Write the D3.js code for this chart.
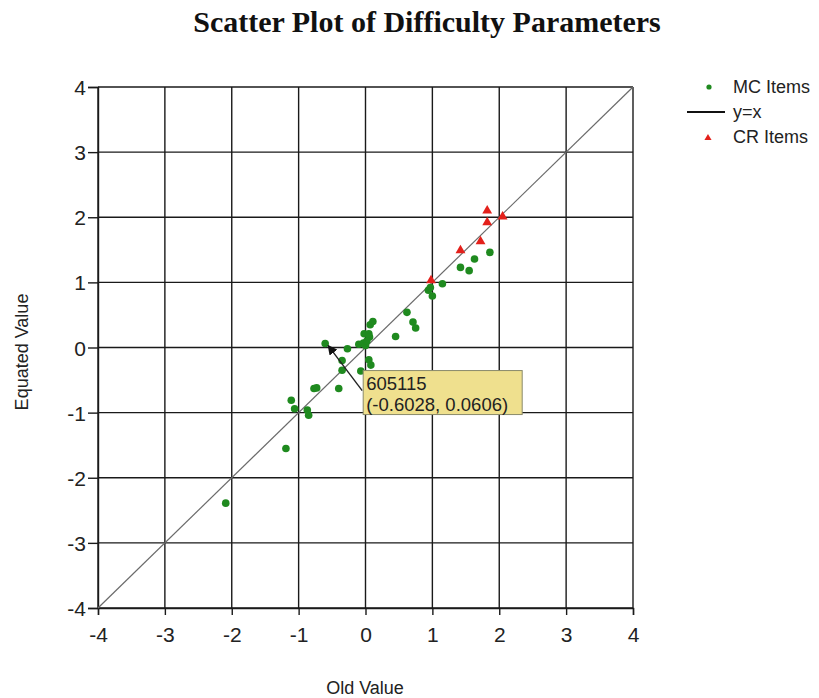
<!DOCTYPE html>
<html>
<head>
<meta charset="utf-8">
<script src="https://cdn.jsdelivr.net/npm/d3@7"></script>
<style>
  html, body { margin: 0; padding: 0; background: #fff; }
  svg { display: block; }
</style>
</head>
<body>
<div id="chart"></div>
<script>
// Old vs. equated item difficulty values
const mcOld = [-2.09, -1.19, -1.11, -1.06, -0.87, -0.85, -0.77, -0.73, -0.6028, -0.40,
               -0.35, -0.35, -0.27, -0.07, -0.10, -0.03, 0.00, -0.02, 0.05, 0.06,
               0.02, 0.07, 0.11, 0.05, 0.08, 0.45, 0.62, 0.71, 0.75, 0.94,
               0.97, 1.00, 1.15, 1.42, 1.55, 1.63, 1.86];
const mcEquated = [-2.39, -1.55, -0.81, -0.94, -0.96, -1.04, -0.63, -0.62, 0.0606, -0.63,
                   -0.35, -0.20, -0.02, -0.36, 0.05, 0.07, 0.03, 0.21, 0.21, 0.16,
                   0.10, 0.35, 0.40, -0.19, -0.27, 0.17, 0.54, 0.39, 0.30, 0.88,
                   0.92, 0.79, 0.98, 1.23, 1.18, 1.36, 1.46];
const crOld = [0.98, 1.42, 1.72, 1.82, 1.82, 2.05];
const crEquated = [1.03, 1.49, 1.63, 1.92, 2.10, 2.01];

const axisTicks = [-4, -3, -2, -1, 0, 1, 2, 3, 4];
const axisDomain = [-4, 4];
const legendLabels = ["MC Items", "y=x", "CR Items"];

// Highlighted item shown in the call-out
const calloutId = "605115";
const calloutOld = -0.6028;
const calloutEquated = 0.0606;

const W = 819, H = 698;
const plotLeft = 98, plotRight = 633, plotTop = 87, plotBottom = 608;

const svg = d3.select("#chart").append("svg")
  .attr("width", W).attr("height", H)
  .style("font-family", "'Liberation Sans', Arial, sans-serif");

const x = d3.scaleLinear().domain(axisDomain).range([plotLeft, plotRight]);
const y = d3.scaleLinear().domain(axisDomain).range([plotBottom, plotTop]);

// Title
svg.append("text")
  .attr("x", 427).attr("y", 32)
  .attr("text-anchor", "middle")
  .style("font-family", "'Liberation Serif', 'Times New Roman', serif")
  .style("font-weight", "bold")
  .style("font-size", "30px")
  .attr("fill", "#111")
  .text("Scatter Plot of Difficulty Parameters");

// Grid lines
const grid = svg.append("g").attr("stroke", "#1a1a1a").attr("stroke-width", 1.4);
grid.selectAll("line.v").data(axisTicks).join("line").attr("class", "v")
  .attr("x1", d => x(d)).attr("x2", d => x(d))
  .attr("y1", plotTop).attr("y2", plotBottom);
grid.selectAll("line.h").data(axisTicks).join("line").attr("class", "h")
  .attr("y1", d => y(d)).attr("y2", d => y(d))
  .attr("x1", plotLeft).attr("x2", plotRight);

// Axes
const xAxis = svg.append("g")
  .attr("transform", `translate(0,${plotBottom})`)
  .call(d3.axisBottom(x).tickValues(axisTicks).tickSize(7).tickPadding(12).tickFormat(d3.format("d")));
const yAxis = svg.append("g")
  .attr("transform", `translate(${plotLeft},0)`)
  .call(d3.axisLeft(y).tickValues(axisTicks).tickSize(10).tickPadding(2).tickFormat(d3.format("d")));
[xAxis, yAxis].forEach(g => {
  g.select(".domain").attr("stroke", "#1a1a1a").attr("stroke-width", 1.4);
  g.selectAll(".tick line").attr("stroke", "#1a1a1a").attr("stroke-width", 1.4);
  g.selectAll(".tick text")
    .style("font-family", "'Liberation Sans', Arial, sans-serif")
    .style("font-size", "21px")
    .attr("fill", "#222")
    .text(d => d < 0 ? "-" + Math.abs(d) : d);
});
yAxis.selectAll(".tick text").attr("dy", "0.36em");

// Axis titles
svg.append("text")
  .attr("x", 365).attr("y", 694)
  .attr("text-anchor", "middle")
  .style("font-size", "18px").attr("fill", "#222")
  .text("Old Value");
svg.append("text")
  .attr("transform", "translate(28,352) rotate(-90)")
  .attr("text-anchor", "middle")
  .style("font-size", "18px").attr("fill", "#222")
  .text("Equated Value");

// Identity line y = x
svg.append("line")
  .attr("x1", x(axisDomain[0])).attr("y1", y(axisDomain[0]))
  .attr("x2", x(axisDomain[1])).attr("y2", y(axisDomain[1]))
  .attr("stroke", "#6a6a6a").attr("stroke-width", 1.2);

// MC items
const mcColor = "#1f8a1f";
const crColor = "#e3201b";
svg.append("g").selectAll("circle")
  .data(d3.zip(mcOld, mcEquated)).join("circle")
  .attr("cx", d => x(d[0])).attr("cy", d => y(d[1]))
  .attr("r", 3.8).attr("fill", mcColor);

// CR items
const tri = d3.symbol().type(d3.symbolTriangle).size(42);
svg.append("g").selectAll("path")
  .data(d3.zip(crOld, crEquated)).join("path")
  .attr("transform", d => `translate(${x(d[0])},${y(d[1])})`)
  .attr("d", tri).attr("fill", crColor);

// Call-out for the selected item
const px = x(calloutOld), py = y(calloutEquated);
const boxX = px + 38, boxY = py + 27, boxW = 159, boxH = 44;
svg.append("defs").append("marker")
  .attr("id", "arrowHead")
  .attr("viewBox", "0 0 10 10")
  .attr("refX", 9).attr("refY", 5)
  .attr("markerWidth", 7).attr("markerHeight", 7)
  .attr("orient", "auto")
  .append("path").attr("d", "M0,0 L10,5 L0,10 Z").attr("fill", "#111");
svg.append("line")
  .attr("x1", boxX - 1).attr("y1", boxY + 20)
  .attr("x2", px + 3).attr("y2", py + 2)
  .attr("stroke", "#222").attr("stroke-width", 1.4)
  .attr("marker-end", "url(#arrowHead)");
svg.append("rect")
  .attr("x", boxX).attr("y", boxY)
  .attr("width", boxW).attr("height", boxH)
  .attr("fill", "#efe08e").attr("stroke", "#8a8a6a").attr("stroke-width", 1);
svg.append("text")
  .attr("x", boxX + 3).attr("y", boxY + 19)
  .style("font-size", "18.5px").attr("fill", "#222")
  .text(calloutId);
svg.append("text")
  .attr("x", boxX + 3).attr("y", boxY + 40)
  .style("font-size", "18.5px").attr("fill", "#222")
  .text(`(${calloutOld}, ${calloutEquated})`);

// Legend
const lg = svg.append("g").style("font-size", "18px").attr("fill", "#222");
lg.append("circle").attr("cx", 709).attr("cy", 87).attr("r", 2.6).attr("fill", mcColor);
lg.append("line").attr("x1", 687).attr("x2", 725).attr("y1", 112).attr("y2", 112)
  .attr("stroke", "#111").attr("stroke-width", 2.2);
lg.append("path").attr("transform", "translate(708,138)")
  .attr("d", d3.symbol().type(d3.symbolTriangle).size(22)).attr("fill", crColor);
lg.selectAll("text").data(legendLabels).join("text")
  .attr("x", 733).attr("y", (d, i) => 87 + i * 25)
  .attr("dy", "0.35em")
  .text(d => d);
</script>
</body>
</html>
